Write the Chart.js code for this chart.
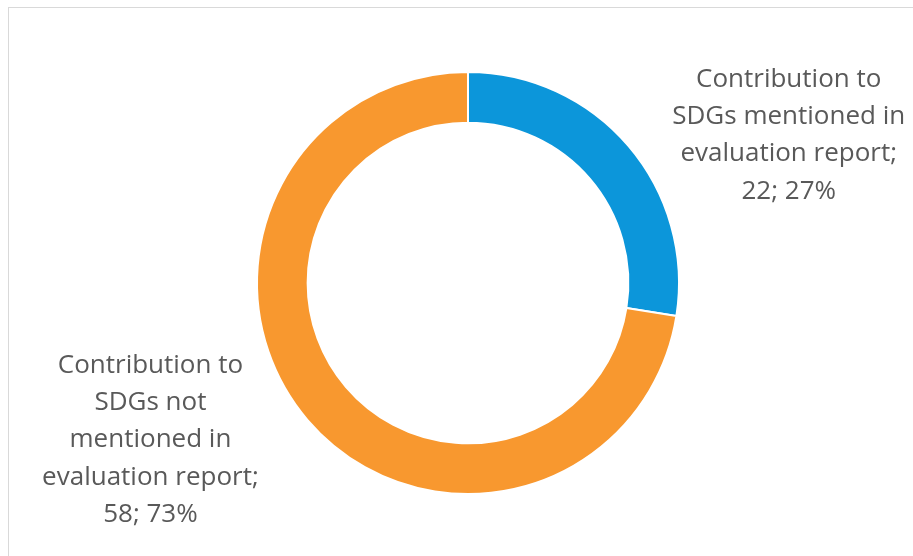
<!DOCTYPE html>
<html>
<head>
<meta charset="utf-8">
<script src="https://cdn.jsdelivr.net/npm/chart.js@4"></script>
<style>
  html, body { margin: 0; padding: 0; background: #ffffff; }
  #wrap { position: relative; width: 913px; height: 556px; overflow: hidden; }
  #frame { position: absolute; left: 8px; top: 7px; width: 1000px; height: 700px; border: 1px solid #d9d9d9; box-sizing: border-box; }
  canvas { position: absolute; left: 0; top: 0; }
</style>
</head>
<body>
<div id="wrap">
  <div id="frame"></div>
  <canvas id="c" width="913" height="556"></canvas>
</div>
<script>
const categories = [
  ["Contribution to", "SDGs mentioned in", "evaluation report;"],
  ["Contribution to", "SDGs not", "mentioned in", "evaluation report;"]
];
const values = [22, 58];
const percents = ["27%", "73%"];
const colors = ["#0c96da", "#f8982f"];

const labelPlugin = {
  id: 'sideLabels',
  afterDatasetsDraw(chart) {
    const ctx = chart.ctx;
    const meta = chart.getDatasetMeta(0);
    const arc0 = meta.data[0];
    const cx = arc0.x, cy = arc0.y, r = arc0.outerRadius;
    ctx.save();
    ctx.fillStyle = '#595959';
    ctx.font = '26px "Open Sans", sans-serif';
    ctx.textAlign = 'center';
    ctx.textBaseline = 'middle';
    const lh = 37.3;
    const anchors = [
      { x: cx + r * 1.52, y: cy - r * 0.965 },
      { x: cx - r * 1.505, y: cy + r * 0.39 }
    ];
    categories.forEach((lines, i) => {
      const all = lines.concat([values[i] + "; " + percents[i]]);
      all.forEach((t, k) => {
        ctx.fillText(t, anchors[i].x, anchors[i].y + k * lh);
      });
    });
    ctx.restore();
  }
};

new Chart(document.getElementById('c'), {
  type: 'doughnut',
  data: {
    labels: categories,
    datasets: [{
      data: values,
      backgroundColor: colors,
      borderColor: '#ffffff',
      borderWidth: 2,
      hoverOffset: 0
    }]
  },
  options: {
    responsive: false,
    animation: false,
    cutout: '76%',
    layout: { padding: { top: 71, bottom: 61, left: 23, right: 0 } },
    plugins: {
      legend: { display: false },
      tooltip: { enabled: false }
    }
  },
  plugins: [labelPlugin]
});
</script>
</body>
</html>
